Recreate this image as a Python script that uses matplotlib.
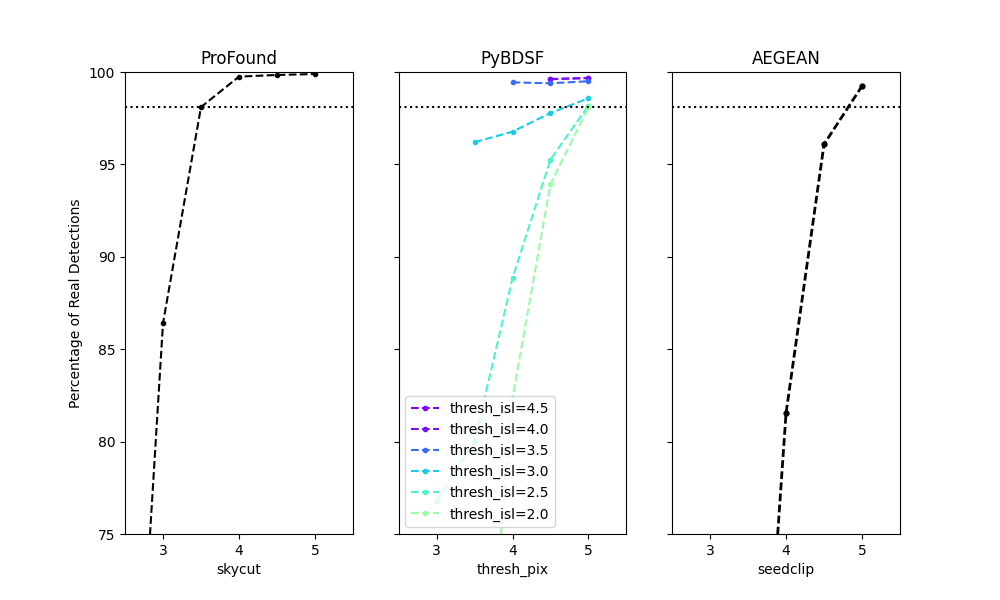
import matplotlib
matplotlib.use("Agg")
import matplotlib.pyplot as plt
from matplotlib import cm

# ProFound
pf_x = [2.5, 3.0, 3.5, 4.0, 4.5, 5.0]
pf_y = [53.0, 86.4, 98.1, 99.75, 99.84, 99.89]

# PyBDSF: thresh_isl series
bd_labels = ["thresh_isl=4.5", "thresh_isl=4.0", "thresh_isl=3.5",
             "thresh_isl=3.0", "thresh_isl=2.5", "thresh_isl=2.0"]
bd_x = [
    [4.5, 5.0],
    [4.5, 5.0],
    [4.0, 4.5, 5.0],
    [3.5, 4.0, 4.5, 5.0],
    [3.0, 3.5, 4.0, 4.5, 5.0],
    [3.5, 4.0, 4.5, 5.0],
]
bd_y = [
    [99.62, 99.68],
    [99.61, 99.67],
    [99.44, 99.39, 99.50],
    [96.2, 96.77, 97.78, 98.58],
    [76.8, 80.0, 88.84, 95.26, 98.18],
    [58.0, 82.36, 93.94, 98.1],
]
bd_cvals = [0.0, 0.02, 0.14, 0.3, 0.4, 0.55]

# AEGEAN
ae_x = [3.5, 4.0, 4.5, 5.0]
ae_y = [51.8, 81.53, 96.09, 99.24]

ref_line = 98.1

fig, axes = plt.subplots(1, 3, sharey=True, figsize=(10, 6), dpi=100)

ax = axes[0]
ax.plot(pf_x, pf_y, 'k--', marker='.')
ax.axhline(ref_line, color='k', ls=':')
ax.set_title("ProFound")
ax.set_xlabel("skycut")
ax.set_ylabel("Percentage of Real Detections")

ax = axes[1]
for xs, ys, lab, cv in zip(bd_x, bd_y, bd_labels, bd_cvals):
    ax.plot(xs, ys, '--', marker='.', color=cm.rainbow(cv), label=lab)
ax.axhline(ref_line, color='k', ls=':')
ax.set_title("PyBDSF")
ax.set_xlabel("thresh_pix")
ax.legend(loc='lower left')

ax = axes[2]
ax.plot(ae_x, ae_y, color='k', ls=(0, (2.8, 1.2)), marker='.', lw=2.0, markersize=7)
ax.axhline(ref_line, color='k', ls=':')
ax.set_title("AEGEAN")
ax.set_xlabel("seedclip")

for ax in axes:
    ax.set_xlim(2.5, 5.5)
    ax.set_xticks([3, 4, 5])
axes[0].set_ylim(75, 100)
axes[0].set_yticks([75, 80, 85, 90, 95, 100])

fig.savefig("out.png")
